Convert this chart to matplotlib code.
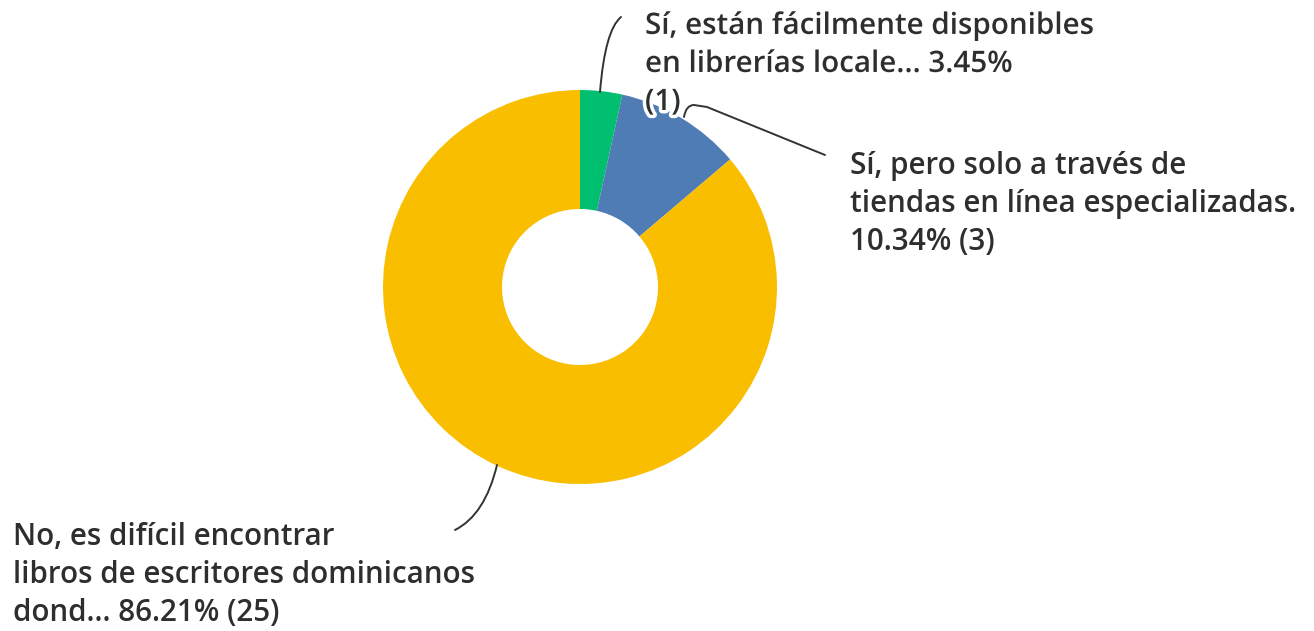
import matplotlib
matplotlib.use("Agg")
import matplotlib.pyplot as plt
import matplotlib.patheffects as pe
from matplotlib.path import Path
from matplotlib.patches import PathPatch

# Survey answers, in drawing order (clockwise from 12 o'clock)
labels = [
    "Sí, están fácilmente disponibles\nen librerías locale... 3.45%\n(1)",
    "Sí, pero solo a través de\ntiendas en línea especializadas.\n10.34% (3)",
    "No, es difícil encontrar\nlibros de escritores dominicanos\ndond... 86.21% (25)",
]
percentages = [3.45, 10.34, 86.21]
counts = [1, 3, 25]
colors = ["#00BF6F", "#507CB6", "#F9BE00"]

W, H = 1314, 631
fig = plt.figure(figsize=(W / 100, H / 100), dpi=100)
ax = fig.add_axes([0, 0, 1, 1])

cx, cy = 580, H - 287
r_out, r_in = 197, 78

ax.pie(percentages, colors=colors, startangle=90, counterclock=False,
       radius=r_out, center=(cx, cy), frame=True,
       wedgeprops=dict(width=r_out - r_in, linewidth=0))
ax.set_xlim(0, W)
ax.set_ylim(0, H)
ax.set_aspect("equal")
ax.axis("off")

# anchored on the baseline of each label's last line
txt_kw = dict(fontsize=21.3, color="#2e2e2e", fontweight="semibold",
              family=["Open Sans", "DejaVu Sans"], va="baseline", ha="left",
              linespacing=1.35)

t0 = ax.text(645, H - 110, labels[0], **txt_kw)
t0.set_path_effects([pe.withStroke(linewidth=5, foreground="white")])
ax.text(850, H - 250, labels[1], **txt_kw)
ax.text(13, H - 621, labels[2], **txt_kw)


def leader(points, codes):
    pts = [(x, H - y) for x, y in points]
    ax.add_patch(PathPatch(Path(pts, codes), fill=False, edgecolor="#333333",
                           linewidth=1.4, capstyle="round", zorder=5))


C = Path.CURVE3
leader([(600, 92), (605, 30), (621, 17)], [Path.MOVETO, C, C])
leader([(684, 117), (686, 105), (694, 105), (707, 107), (825, 155)],
       [Path.MOVETO, C, C, Path.LINETO, Path.LINETO])
leader([(497, 465), (485, 515), (455, 530)], [Path.MOVETO, C, C])

fig.savefig("out.png", dpi=100, facecolor="white")
